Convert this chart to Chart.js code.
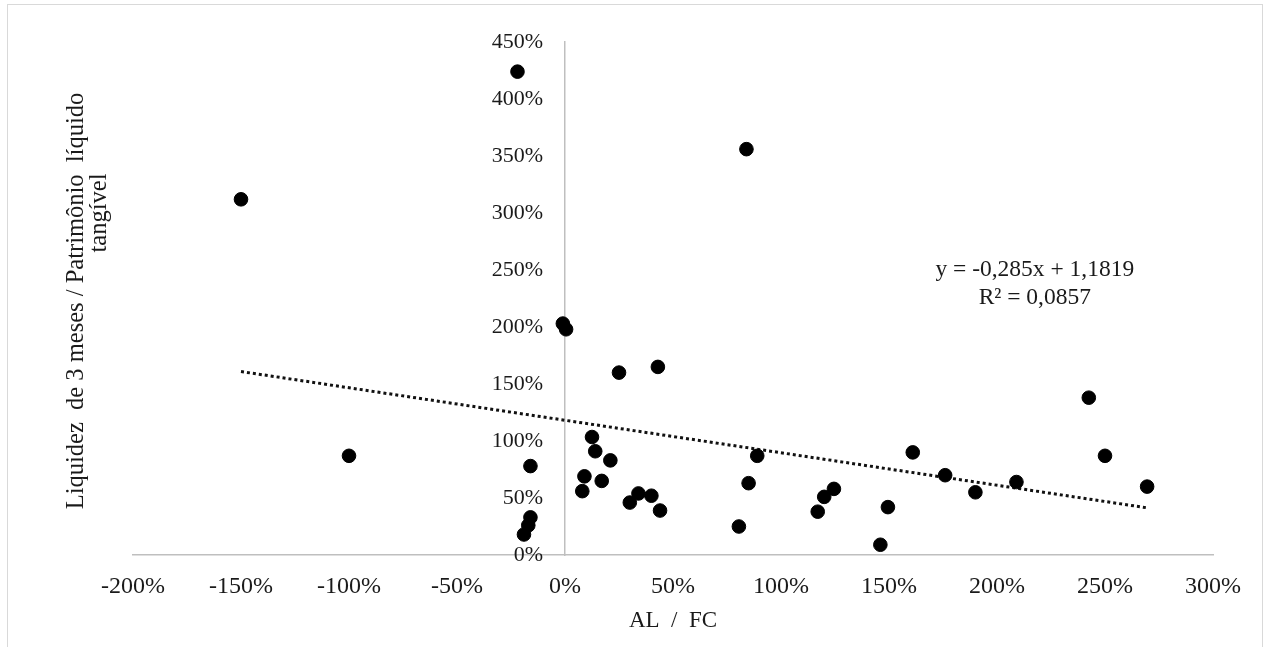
<!DOCTYPE html>
<html>
<head>
<meta charset="utf-8">
<script src="https://cdn.jsdelivr.net/npm/chart.js@4.4.1/dist/chart.umd.min.js"></script>
<style>
  html, body { margin: 0; padding: 0; background: #fff; }
  #frame { position: absolute; left: 7px; top: 4px; width: 1256px; height: 660px; border: 1px solid #d9d9d9; box-sizing: border-box; }
  #wrap { position: absolute; left: 0; top: 0; width: 1269px; height: 647px; }
</style>
</head>
<body>
<div id="frame"></div>
<div id="wrap"><canvas id="chart" width="1269" height="647"></canvas></div>
<script>
// AL / FC (%) for each company
const alFc = [
  -22, -150, 84, -1, 0.5, 25, 43, -100, -16, 12.5,
  14, 21, 9, 8, 17, -16, -17, -19, 30, 34,
  40, 44, 80.5, 85, 89, 117, 120, 124.5, 146, 149.5,
  161, 176, 190, 209, 242.5, 250, 269.5
];
// 3-month liquidity / tangible net worth (%)
const liquidez = [
  424, 312, 356, 203, 198, 160, 165, 87, 78, 103.5,
  91, 83, 69, 56, 65, 33, 26, 18, 46, 54,
  52, 39, 25, 63, 87, 38, 51, 58, 9, 42,
  90, 70, 55, 64, 138, 87, 60
];
// Linear trend (fraction units) and its fit quality
const trendSlope = -0.285;
const trendIntercept = 1.1819;
const trendR2 = 0.0857;

const xTicks = { min: -200, max: 300, step: 50 };
const yTicks = { min: 0, max: 450, step: 50 };

const xTitle = 'AL  /  FC';
const yTitleLines = ['Liquidez  de 3 meses / Patrimônio  líquido', 'tangível'];

const fmtNum = (v, d) => v.toFixed(d).replace('.', ',');
const eqLines = [
  'y = ' + fmtNum(trendSlope, 3) + 'x + ' + fmtNum(trendIntercept, 4),
  'R² = ' + fmtNum(trendR2, 4)
];

const points = alFc.map((x, i) => ({ x: x, y: liquidez[i] }));
const xMin = Math.min(...alFc);
const xMax = Math.max(...alFc);
const trendAt = x => 100 * (trendSlope * x / 100 + trendIntercept);
const trendPoints = [{ x: xMin, y: trendAt(xMin) }, { x: xMax, y: trendAt(xMax) }];

const SERIF = '"Liberation Serif", "Times New Roman", serif';
const TEXT = '#1a1a1a';

// Rotated two-line y-axis title and the trend equation label
const annotations = {
  id: 'annotations',
  afterDraw(chart) {
    const ctx = chart.ctx;
    const { x, y } = chart.scales;
    ctx.save();
    ctx.fillStyle = TEXT;
    ctx.font = '24.5px ' + SERIF;
    ctx.textAlign = 'center';
    ctx.textBaseline = 'middle';
    // y title
    ctx.save();
    ctx.translate(77, 301);
    ctx.rotate(-Math.PI / 2);
    ctx.fillText(yTitleLines[0], 0, 0);
    ctx.restore();
    ctx.save();
    ctx.translate(100, 213);
    ctx.rotate(-Math.PI / 2);
    ctx.fillText(yTitleLines[1], 0, 0);
    ctx.restore();
    // equation
    ctx.font = '23.5px ' + SERIF;
    const ex = x.getPixelForValue(217.5);
    const ey = y.getPixelForValue(250);
    ctx.fillText(eqLines[0], ex, ey);
    ctx.fillText(eqLines[1], ex, ey + 28);
    ctx.restore();
  }
};

new Chart(document.getElementById('chart'), {
  data: {
    datasets: [
      {
        type: 'scatter',
        data: points,
        backgroundColor: '#000',
        borderColor: '#000',
        pointRadius: 6.8,
        pointHoverRadius: 6.8,
        pointStyle: 'circle',
        order: 1
      },
      {
        type: 'line',
        data: trendPoints,
        borderColor: '#111',
        borderWidth: 3,
        borderDash: [3, 3],
        pointRadius: 0,
        fill: false,
        order: 2
      }
    ]
  },
  options: {
    responsive: false,
    animation: false,
    events: [],
    layout: { padding: { left: 133, right: 56, top: 42, bottom: 0 } },
    plugins: { legend: { display: false }, tooltip: { enabled: false } },
    scales: {
      x: {
        type: 'linear',
        position: 'bottom',
        min: xTicks.min,
        max: xTicks.max,
        afterFit: s => { s.height = 92; },
        grid: { display: false, drawTicks: false },
        border: { display: true, color: '#bfbfbf', width: 1.5 },
        ticks: {
          stepSize: xTicks.step,
          padding: 17,
          color: TEXT,
          font: { family: SERIF, size: 24 },
          maxRotation: 0,
          callback: v => v + '%'
        },
        title: {
          display: true,
          text: xTitle,
          color: TEXT,
          font: { family: SERIF, size: 23 },
          padding: { top: 0, bottom: 12 }
        }
      },
      y: {
        type: 'linear',
        position: { x: 0 },
        min: yTicks.min,
        max: yTicks.max,
        grid: { display: false, drawTicks: false },
        border: { display: true, color: '#bfbfbf', width: 1.5 },
        ticks: {
          stepSize: yTicks.step,
          color: TEXT,
          font: { family: SERIF, size: 22 },
          // en spaces keep the labels clear of the axis line
          callback: v => v + '%\u2002\u2002'
        }
      }
    }
  },
  plugins: [annotations]
});
</script>
</body>
</html>
